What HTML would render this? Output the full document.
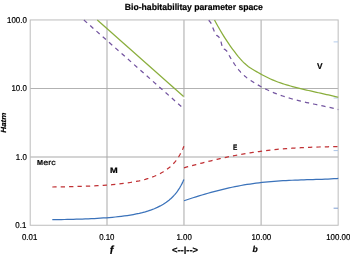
<!DOCTYPE html>
<html><head><meta charset="utf-8"><title>Bio-habitabilitay parameter space</title>
<style>html,body{margin:0;padding:0;background:#fff;overflow:hidden}svg{display:block}</style></head>
<body>
<svg width="350" height="254" viewBox="0 0 350 254">
<defs><filter id="soft" x="0" y="0" width="350" height="254" filterUnits="userSpaceOnUse"><feGaussianBlur stdDeviation="0.3"/></filter></defs>
<rect width="350" height="254" fill="#fff"/>
<line x1="30.20" x2="338.15" y1="88.50" y2="88.50" stroke="#b2b2b2" stroke-width="1"/>
<line x1="30.20" x2="338.15" y1="157.00" y2="157.00" stroke="#a9a9a9" stroke-width="1"/>
<line x1="107.00" x2="107.00" y1="19.95" y2="225.25" stroke="#a9a9a9" stroke-width="1"/>
<line x1="183.97" x2="183.97" y1="19.95" y2="225.25" stroke="#a9a9a9" stroke-width="1"/>
<line x1="261.10" x2="261.10" y1="19.95" y2="225.25" stroke="#a9a9a9" stroke-width="1"/>
<rect x="30.20" y="19.95" width="307.95" height="205.30" fill="none" stroke="#bcbcbc" stroke-width="1"/>
<line x1="333.6" x2="338" y1="41.9" y2="41.9" stroke="#b4cdec" stroke-width="1"/>
<line x1="333.6" x2="338" y1="98.0" y2="98.0" stroke="#b4cdec" stroke-width="1"/>
<line x1="333.6" x2="338" y1="150.6" y2="150.6" stroke="#a9c3e6" stroke-width="1"/>
<line x1="333.6" x2="338" y1="208.2" y2="208.2" stroke="#7f9fd2" stroke-width="1"/>
<rect x="183" y="97.4" width="2" height="1.7" fill="#fff"/>
<g filter="url(#soft)">
<g fill="none" stroke-linecap="butt" stroke-linejoin="round" stroke-width="1.25">
<path d="M97.3 20 L183.6 96.5" stroke="#8aae3c"/>
<path d="M83.9 20 L184 108.9" stroke="#7354a0" stroke-dasharray="4.3 4.1"/>
<path d="M214.50 19.97 L216.50 23.70 L218.50 27.29 L220.50 30.75 L222.50 34.08 L224.50 37.30 L226.50 40.40 L228.50 43.38 L230.50 46.27 L232.50 49.05 L234.50 51.73 L236.50 54.32 L238.50 56.80 L240.50 59.15 L242.50 61.33 L244.50 63.32 L246.50 65.09 L248.50 66.65 L250.50 68.04 L252.50 69.30 L254.50 70.49 L256.50 71.64 L258.50 72.77 L260.50 73.88 L262.50 74.97 L264.50 76.02 L266.50 77.04 L268.50 78.02 L270.50 78.96 L272.50 79.85 L274.50 80.70 L276.50 81.49 L278.50 82.24 L280.50 82.94 L282.50 83.61 L284.50 84.24 L286.50 84.85 L288.50 85.43 L290.50 86.00 L292.50 86.55 L294.50 87.09 L296.50 87.61 L298.50 88.12 L300.50 88.62 L302.50 89.10 L304.50 89.58 L306.50 90.05 L308.50 90.51 L310.50 90.97 L312.50 91.42 L314.50 91.86 L316.50 92.31 L318.50 92.75 L320.50 93.19 L322.50 93.63 L324.50 94.07 L326.50 94.52 L328.50 94.97 L330.50 95.42 L332.50 95.88 L334.50 96.35 L336.50 96.83 L338.30 97.26" stroke="#8aae3c"/>
<path d="M208.70 20.24 L210.70 22.56 L212.70 27.39 L214.70 32.41 L216.70 35.38 L218.70 36.68 L220.70 40.60 L222.70 48.77 L224.70 49.28 L226.70 50.92 L228.70 54.63 L230.70 58.13 L232.70 61.43 L234.70 64.50 L236.70 67.33 L238.70 69.90 L240.70 72.20 L242.70 74.23 L244.70 76.03 L246.70 77.63 L248.70 79.10 L250.70 80.47 L252.70 81.78 L254.70 83.04 L256.70 84.24 L258.70 85.40 L260.70 86.51 L262.70 87.57 L264.70 88.59 L266.70 89.56 L268.70 90.50 L270.70 91.39 L272.70 92.25 L274.70 93.07 L276.70 93.85 L278.70 94.60 L280.70 95.32 L282.70 96.01 L284.70 96.67 L286.70 97.30 L288.70 97.91 L290.70 98.50 L292.70 99.06 L294.70 99.60 L296.70 100.13 L298.70 100.63 L300.70 101.13 L302.70 101.60 L304.70 102.07 L306.70 102.52 L308.70 102.97 L310.70 103.40 L312.70 103.84 L314.70 104.26 L316.70 104.69 L318.70 105.11 L320.70 105.54 L322.70 105.96 L324.70 106.39 L326.70 106.83 L328.70 107.27 L330.70 107.72 L332.70 108.19 L334.70 108.66 L336.70 109.15 L338.30 109.55" stroke="#7354a0" stroke-dasharray="4.3 4.1"/>
<path d="M52.30 187.00 L55.30 186.95 L58.30 186.91 L61.30 186.86 L64.30 186.80 L67.30 186.74 L70.30 186.67 L73.30 186.60 L76.30 186.52 L79.30 186.43 L82.30 186.34 L85.30 186.23 L88.30 186.11 L91.30 185.99 L94.30 185.85 L97.30 185.69 L100.30 185.52 L103.30 185.34 L106.30 185.13 L109.30 184.90 L112.30 184.66 L115.30 184.38 L118.30 184.08 L121.30 183.74 L124.30 183.37 L127.30 182.96 L130.30 182.50 L133.30 182.00 L136.30 181.43 L139.30 180.80 L142.30 180.10 L145.30 179.31 L148.30 178.43 L151.30 177.43 L154.30 176.29 L157.30 175.00 L160.30 173.53 L163.30 171.83 L166.30 169.86 L169.30 167.54 L170.00 166.94 L171.00 166.04 L172.00 165.08 L173.00 164.07 L174.00 162.98 L175.00 161.82 L176.00 160.58 L177.00 159.24 L178.00 157.80 L179.00 156.25 L180.00 154.55 L181.00 152.70 L182.00 150.67 L183.00 148.42 L183.90 146.19" stroke="#c03034" stroke-dasharray="4.3 4.1"/>
<path d="M184.00 167.78 L187.00 166.97 L190.00 166.16 L193.00 165.36 L196.00 164.57 L199.00 163.79 L202.00 163.02 L205.00 162.26 L208.00 161.51 L211.00 160.78 L214.00 160.06 L217.00 159.35 L220.00 158.67 L223.00 158.00 L226.00 157.35 L229.00 156.72 L232.00 156.10 L235.00 155.51 L238.00 154.93 L241.00 154.38 L244.00 153.85 L247.00 153.34 L250.00 152.85 L253.00 152.38 L256.00 151.93 L259.00 151.51 L262.00 151.11 L265.00 150.73 L268.00 150.36 L271.00 150.03 L274.00 149.71 L277.00 149.41 L280.00 149.13 L283.00 148.87 L286.00 148.63 L289.00 148.41 L292.00 148.20 L295.00 148.01 L298.00 147.84 L301.00 147.69 L304.00 147.54 L307.00 147.41 L310.00 147.29 L313.00 147.19 L316.00 147.09 L319.00 147.00 L322.00 146.92 L325.00 146.84 L328.00 146.77 L331.00 146.70 L334.00 146.63 L337.00 146.56 L338.30 146.53" stroke="#c03034" stroke-dasharray="4.3 4.1"/>
<path d="M52.30 219.70 L55.30 219.65 L58.30 219.61 L61.30 219.55 L64.30 219.50 L67.30 219.43 L70.30 219.36 L73.30 219.29 L76.30 219.21 L79.30 219.11 L82.30 219.01 L85.30 218.91 L88.30 218.78 L91.30 218.65 L94.30 218.51 L97.30 218.35 L100.30 218.17 L103.30 217.98 L106.30 217.77 L109.30 217.54 L112.30 217.28 L115.30 217.00 L118.30 216.68 L121.30 216.34 L124.30 215.96 L127.30 215.53 L130.30 215.06 L133.30 214.54 L136.30 213.96 L139.30 213.32 L142.30 212.60 L145.30 211.79 L148.30 210.89 L151.30 209.87 L154.30 208.72 L157.30 207.41 L160.30 205.92 L163.30 204.21 L166.30 202.23 L169.30 199.93 L170.00 199.33 L171.00 198.44 L172.00 197.50 L173.00 196.50 L174.00 195.43 L175.00 194.30 L176.00 193.09 L177.00 191.79 L178.00 190.41 L179.00 188.91 L180.00 187.30 L181.00 185.55 L182.00 183.64 L183.00 181.56 L183.90 179.51" stroke="#3a72ba"/>
<path d="M184.00 200.72 L187.00 199.72 L190.00 198.74 L193.00 197.77 L196.00 196.82 L199.00 195.89 L202.00 194.98 L205.00 194.09 L208.00 193.23 L211.00 192.39 L214.00 191.57 L217.00 190.78 L220.00 190.02 L223.00 189.29 L226.00 188.58 L229.00 187.91 L232.00 187.26 L235.00 186.65 L238.00 186.06 L241.00 185.51 L244.00 184.98 L247.00 184.49 L250.00 184.02 L253.00 183.58 L256.00 183.18 L259.00 182.80 L262.00 182.45 L265.00 182.13 L268.00 181.83 L271.00 181.56 L274.00 181.31 L277.00 181.09 L280.00 180.88 L283.00 180.70 L286.00 180.53 L289.00 180.39 L292.00 180.25 L295.00 180.13 L298.00 180.02 L301.00 179.92 L304.00 179.83 L307.00 179.74 L310.00 179.65 L313.00 179.57 L316.00 179.48 L319.00 179.38 L322.00 179.27 L325.00 179.16 L328.00 179.03 L331.00 178.87 L334.00 178.70 L337.00 178.51 L338.30 178.41" stroke="#3a72ba"/>
</g>
<g font-family="Liberation Sans, sans-serif" fill="#000" stroke="#000" stroke-width="0.2" stroke-linejoin="round" font-size="8.5" text-rendering="geometricPrecision">
<text x="124.8" y="10.4" font-weight="bold" font-size="8.9" textLength="138.1" lengthAdjust="spacingAndGlyphs">Bio-habitabilitay parameter space</text>
<text x="7.0" y="22.7" textLength="19.8" lengthAdjust="spacingAndGlyphs">100.0</text>
<text x="11.5" y="91.1" textLength="15.3" lengthAdjust="spacingAndGlyphs">10.0</text>
<text x="15.8" y="159.6" textLength="11.0" lengthAdjust="spacingAndGlyphs">1.0</text>
<text x="15.3" y="228" textLength="11.0" lengthAdjust="spacingAndGlyphs">0.1</text>
<text x="22.0" y="239.5" textLength="15.3" lengthAdjust="spacingAndGlyphs">0.01</text>
<text x="99.2" y="239.5" textLength="15.3" lengthAdjust="spacingAndGlyphs">0.10</text>
<text x="176.5" y="239.5" textLength="15.3" lengthAdjust="spacingAndGlyphs">1.00</text>
<text x="251.4" y="239.5" textLength="19.8" lengthAdjust="spacingAndGlyphs">10.00</text>
<text x="326.2" y="239.5" textLength="24.2" lengthAdjust="spacingAndGlyphs">100.00</text>
<text transform="translate(5.7 132.7) rotate(-90)" font-weight="bold" font-style="italic" font-size="7.4" textLength="20.2" lengthAdjust="spacingAndGlyphs">Hatm</text>
<text x="37.0" y="165.1" font-weight="bold" font-size="7.3" textLength="6.0" lengthAdjust="spacingAndGlyphs">M</text>
<text x="43.3" y="165.1" font-size="7.7" textLength="12.5" lengthAdjust="spacingAndGlyphs">erc</text>
<text x="109.9" y="172.8" font-weight="bold" font-size="8.0" textLength="7.7" lengthAdjust="spacingAndGlyphs">M</text>
<text x="233.0" y="150.3" font-weight="bold" font-size="7.9" textLength="4.3" lengthAdjust="spacingAndGlyphs">E</text>
<text x="316.9" y="69.1" font-weight="bold" font-size="8.3">V</text>
<text x="109.7" y="254.3" font-weight="bold" font-style="italic" font-size="11.8" textLength="3.6" lengthAdjust="spacingAndGlyphs">f</text>
<text x="252.5" y="252.2" font-weight="bold" font-style="italic">b</text>
<text x="172" y="253" font-weight="bold" font-size="9" textLength="26.1" lengthAdjust="spacingAndGlyphs">&lt;--|--&gt;</text>
</g>
</g>
</svg>
</body></html>
